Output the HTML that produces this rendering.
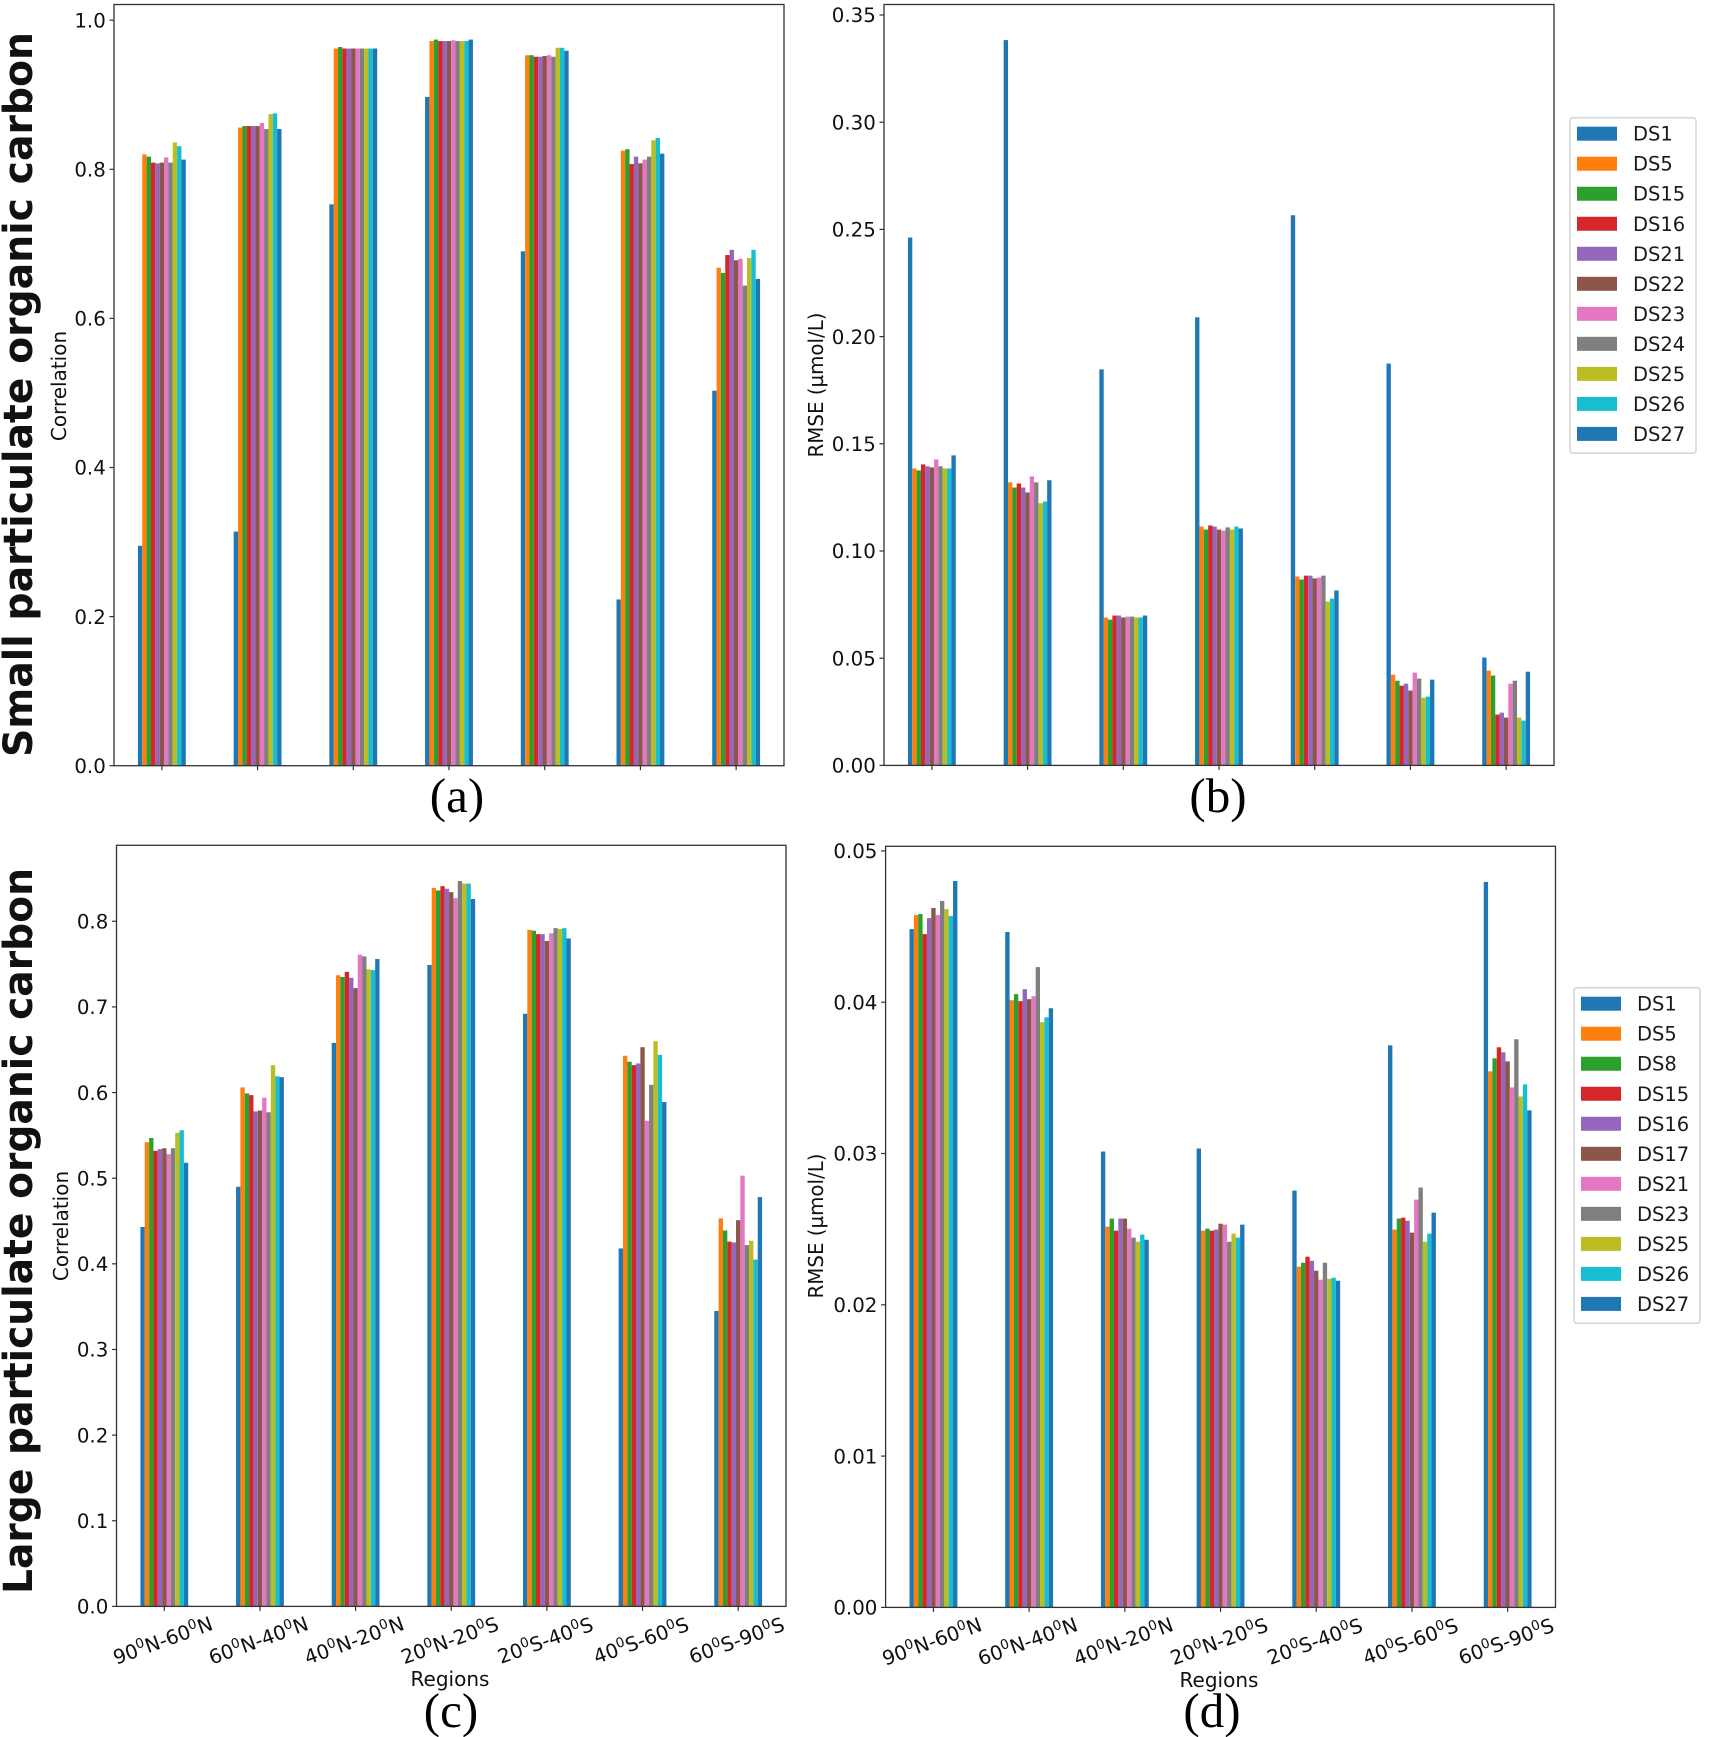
<!DOCTYPE html>
<html lang="en">
<head>
<meta charset="utf-8">
<title>Particulate organic carbon: correlation and RMSE by region</title>
<style>
  html, body { margin: 0; padding: 0; background: #fff; }
  svg { display: block; font-family: "DejaVu Sans", "Liberation Sans", sans-serif; }
  .panel-letter { font-family: "Liberation Serif", serif; font-size: 49px; fill: #000; text-anchor: middle; }
  .row-title { font-weight: bold; font-size: 40px; fill: #111; }
  .axis-title { font-size: 20px; fill: #111; text-anchor: middle; }
  .tick-label { font-size: 19.8px; fill: #111; }
  .legend-label { font-size: 19.5px; fill: #1a1a1a; }
</style>
</head>
<body>
<svg id="figure" xmlns="http://www.w3.org/2000/svg" width="1710" height="1737" viewBox="0 0 1710 1737">
  <rect x="0" y="0" width="1710" height="1737" fill="#ffffff"/>

  <text class="row-title" transform="translate(32,757) rotate(-90)" textLength="725" lengthAdjust="spacingAndGlyphs">Small particulate organic carbon</text>
  <text class="row-title" transform="translate(32,1594) rotate(-90)" textLength="726" lengthAdjust="spacingAndGlyphs">Large particulate organic carbon</text>

  <text class="axis-title" transform="translate(66,386) rotate(-90)">Correlation</text>
  <text class="axis-title" transform="translate(823,385) rotate(-90)" textLength="145" lengthAdjust="spacingAndGlyphs">RMSE (µmol/L)</text>
  <text class="axis-title" transform="translate(68,1226) rotate(-90)">Correlation</text>
  <text class="axis-title" transform="translate(823,1226) rotate(-90)" textLength="145" lengthAdjust="spacingAndGlyphs">RMSE (µmol/L)</text>

  <text class="axis-title" x="450" y="1686">Regions</text>
  <text class="axis-title" x="1219" y="1687">Regions</text>

  <text class="panel-letter" x="457" y="812">(a)</text>
  <text class="panel-letter" x="1218" y="812">(b)</text>
  <text class="panel-letter" x="451" y="1727">(c)</text>
  <text class="panel-letter" x="1212" y="1727">(d)</text>
</svg>

<script>
// ---- chart data -----------------------------------------------------------
const regionLabels = ["90⁰N-60⁰N", "60⁰N-40⁰N", "40⁰N-20⁰N", "20⁰N-20⁰S", "20⁰S-40⁰S", "40⁰S-60⁰S", "60⁰S-90⁰S"];
const smallSeriesNames = ["DS1", "DS5", "DS15", "DS16", "DS21", "DS22", "DS23", "DS24", "DS25", "DS26", "DS27"];
const largeSeriesNames = ["DS1", "DS5", "DS8", "DS15", "DS16", "DS17", "DS21", "DS23", "DS25", "DS26", "DS27"];
const seriesColors = ["#1f77b4", "#ff7f0e", "#2ca02c", "#d62728", "#9467bd", "#8c564b", "#e377c2", "#7f7f7f", "#bcbd22", "#17becf", "#1f77b4"];

const ticksCorrelationSmall = ["0.0", "0.2", "0.4", "0.6", "0.8", "1.0"];
const ticksRmseSmall = ["0.00", "0.05", "0.10", "0.15", "0.20", "0.25", "0.30", "0.35"];
const ticksCorrelationLarge = ["0.0", "0.1", "0.2", "0.3", "0.4", "0.5", "0.6", "0.7", "0.8"];
const ticksRmseLarge = ["0.00", "0.01", "0.02", "0.03", "0.04", "0.05"];

// one row per region, one value per series
const correlationSmall = [
  [0.295, 0.820, 0.817, 0.809, 0.808, 0.809, 0.816, 0.809, 0.836, 0.831, 0.813],
  [0.314, 0.856, 0.858, 0.858, 0.858, 0.858, 0.862, 0.854, 0.874, 0.875, 0.854],
  [0.753, 0.962, 0.964, 0.962, 0.962, 0.962, 0.962, 0.962, 0.962, 0.962, 0.962],
  [0.897, 0.972, 0.974, 0.972, 0.972, 0.972, 0.973, 0.972, 0.972, 0.972, 0.974],
  [0.690, 0.953, 0.953, 0.951, 0.951, 0.952, 0.953, 0.951, 0.963, 0.963, 0.959],
  [0.223, 0.825, 0.827, 0.807, 0.817, 0.808, 0.813, 0.817, 0.839, 0.842, 0.821],
  [0.503, 0.668, 0.661, 0.685, 0.692, 0.678, 0.680, 0.644, 0.681, 0.692, 0.653]
];
const rmseSmall = [
  [0.2462, 0.1385, 0.1376, 0.1404, 0.1395, 0.1390, 0.1427, 0.1395, 0.1385, 0.1385, 0.1446],
  [0.3383, 0.1320, 0.1296, 0.1315, 0.1296, 0.1273, 0.1348, 0.1320, 0.1223, 0.1231, 0.1330],
  [0.1847, 0.0690, 0.0680, 0.0699, 0.0699, 0.0690, 0.0694, 0.0694, 0.0690, 0.0690, 0.0699],
  [0.2090, 0.1114, 0.1100, 0.1119, 0.1114, 0.1100, 0.1095, 0.1110, 0.1100, 0.1114, 0.1105],
  [0.2566, 0.0881, 0.0867, 0.0885, 0.0885, 0.0872, 0.0876, 0.0885, 0.0764, 0.0778, 0.0816],
  [0.1874, 0.0423, 0.0395, 0.0372, 0.0381, 0.0349, 0.0433, 0.0405, 0.0316, 0.0321, 0.0400],
  [0.0503, 0.0442, 0.0419, 0.0237, 0.0246, 0.0223, 0.0381, 0.0395, 0.0223, 0.0209, 0.0437]
];
const correlationLarge = [
  [0.443, 0.542, 0.547, 0.532, 0.534, 0.535, 0.528, 0.535, 0.553, 0.556, 0.518],
  [0.490, 0.606, 0.599, 0.597, 0.578, 0.579, 0.594, 0.577, 0.632, 0.619, 0.618],
  [0.658, 0.737, 0.735, 0.741, 0.734, 0.722, 0.761, 0.759, 0.744, 0.743, 0.756],
  [0.749, 0.839, 0.836, 0.841, 0.838, 0.834, 0.827, 0.847, 0.844, 0.844, 0.826],
  [0.692, 0.790, 0.789, 0.785, 0.785, 0.777, 0.786, 0.792, 0.791, 0.792, 0.780],
  [0.418, 0.643, 0.636, 0.632, 0.634, 0.653, 0.567, 0.609, 0.660, 0.644, 0.589],
  [0.345, 0.453, 0.439, 0.426, 0.425, 0.451, 0.503, 0.422, 0.427, 0.405, 0.478]
];
const rmseLarge = [
  [0.04483, 0.04576, 0.04583, 0.04450, 0.04556, 0.04623, 0.04576, 0.04669, 0.04616, 0.04570, 0.04801],
  [0.04464, 0.04013, 0.04053, 0.04007, 0.04086, 0.04020, 0.04040, 0.04232, 0.03868, 0.03900, 0.03960],
  [0.03013, 0.02517, 0.02570, 0.02490, 0.02570, 0.02570, 0.02503, 0.02444, 0.02417, 0.02464, 0.02430],
  [0.03033, 0.02490, 0.02503, 0.02490, 0.02497, 0.02536, 0.02530, 0.02417, 0.02470, 0.02444, 0.02530],
  [0.02755, 0.02252, 0.02278, 0.02318, 0.02291, 0.02225, 0.02166, 0.02278, 0.02172, 0.02179, 0.02159],
  [0.03715, 0.02497, 0.02570, 0.02576, 0.02556, 0.02477, 0.02695, 0.02775, 0.02417, 0.02470, 0.02609],
  [0.04795, 0.03543, 0.03629, 0.03702, 0.03669, 0.03609, 0.03437, 0.03755, 0.03377, 0.03457, 0.03285]
];

// ---- helpers --------------------------------------------------------------
const SVG_NS = "http://www.w3.org/2000/svg";
const figure = document.getElementById("figure");

function svgEl(tag, attrs, parent) {
  const el = document.createElementNS(SVG_NS, tag);
  for (const key in attrs) el.setAttribute(key, attrs[key]);
  (parent || figure).appendChild(el);
  return el;
}

function makeXScale(box) {
  const step = (box.right - box.left) / regionLabels.length;
  return {
    step: step,
    center: function (regionIndex) { return box.left + step * (regionIndex + 0.5); },
    barWidth: function (seriesCount) { return step * 0.5 / seriesCount; },
    barX: function (regionIndex, seriesIndex, seriesCount) {
      return box.left + step * (regionIndex + 0.25) + seriesIndex * step * 0.5 / seriesCount;
    }
  };
}

function makeYScale(box) {
  return function (value) { return box.bottom - value * box.unit; };
}

// Region labels carry a raised degree digit: each "⁰" in the array is drawn as a small raised 0.
function fillRegionLabel(text, label) {
  const pieces = label.split("⁰");
  pieces.forEach(function (piece, i) {
    if (i > 0) {
      const degree = svgEl("tspan", { dy: -7.5, "font-size": 13.5 }, text);
      
      
      degree.textContent = "0";
    }
    const run = svgEl("tspan", i > 0 ? { dy: 7.5 } : {}, text);
    
    
    run.textContent = piece;
  });
}

function drawPanel(key, box, values, tickLabels, showRegionLabels) {
  const x = makeXScale(box);
  const y = makeYScale(box);

  const group = svgEl("g", {});
  
  

  values.forEach(function (row, regionIndex) {
    row.forEach(function (value, seriesIndex) {
      const bar = svgEl("rect", {
        x: x.barX(regionIndex, seriesIndex, row.length),
        y: y(value),
        width: x.barWidth(row.length),
        height: box.bottom - y(value),
        fill: seriesColors[seriesIndex]
      }, group);
      
      
    });
  });

  tickLabels.forEach(function (label) {
    const tickY = y(parseFloat(label));
    const mark = svgEl("line", {
      x1: box.left - 4.5, x2: box.left, y1: tickY, y2: tickY,
      stroke: "#333", "stroke-width": 1.2
    }, group);
    
    

    const text = svgEl("text", {
      class: "tick-label", x: box.left - 8.2, y: tickY + 7.2, "text-anchor": "end"
    }, group);
    
    
    text.textContent = label;
  });

  regionLabels.forEach(function (label, regionIndex) {
    const tickX = x.center(regionIndex);
    const mark = svgEl("line", {
      x1: tickX, x2: tickX, y1: box.bottom, y2: box.bottom + 4.5,
      stroke: "#333", "stroke-width": 1.2
    }, group);
    
    

    if (showRegionLabels) {
      const cx = tickX - 1.5;
      const cy = box.bottom + 41;
      const text = svgEl("text", {
        class: "tick-label", x: cx, y: cy, "text-anchor": "middle",
        transform: "rotate(-20 " + cx + " " + (cy - 7) + ")"
      }, group);
      
      
      fillRegionLabel(text, label);
    }
  });

  const frame = svgEl("rect", {
    x: box.left, y: box.top, width: box.right - box.left, height: box.bottom - box.top,
    fill: "none", stroke: "#333", "stroke-width": 1.3
  }, group);
  
  
}

function drawLegend(key, names, left, top) {
  const group = svgEl("g", {});
  
  

  const frame = svgEl("rect", {
    x: left, y: top, width: 126, height: 335.5, rx: 3, ry: 3,
    fill: "#fff", stroke: "#d6d6d6", "stroke-width": 1.6
  }, group);
  
  

  names.forEach(function (name, i) {
    const rowTop = top + 9 + i * 30.02;
    const swatch = svgEl("rect", {
      x: left + 7, y: rowTop, width: 40, height: 14, fill: seriesColors[i]
    }, group);
    
    

    const text = svgEl("text", {
      class: "legend-label", x: left + 63, y: rowTop + 14
    }, group);
    
    
    text.textContent = name;
  });
}

// ---- panels ---------------------------------------------------------------
drawPanel("a", { left: 114,   right: 784,    top: 4.5,   bottom: 765.7,  unit: 745.5 }, correlationSmall, ticksCorrelationSmall, false);
drawPanel("b", { left: 884,   right: 1554,   top: 4.5,   bottom: 765.4,  unit: 2144 },  rmseSmall,        ticksRmseSmall,        false);
drawPanel("c", { left: 116.5, right: 786,    top: 845.3, bottom: 1606.4, unit: 856.4 }, correlationLarge, ticksCorrelationLarge, true);
drawPanel("d", { left: 885.6, right: 1555.5, top: 846.3, bottom: 1607.4, unit: 15130 }, rmseLarge,        ticksRmseLarge,        true);

drawLegend("small", smallSeriesNames, 1570, 117.7);
drawLegend("large", largeSeriesNames, 1574, 987.7);
</script>
</body>
</html>
